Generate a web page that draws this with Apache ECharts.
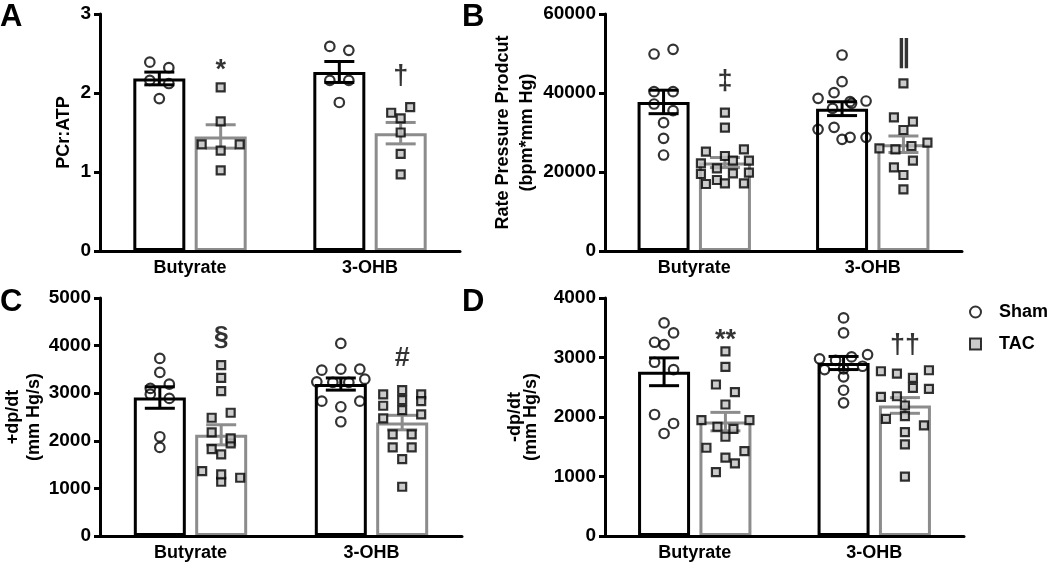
<!DOCTYPE html>
<html><head><meta charset="utf-8">
<script src="https://cdn.jsdelivr.net/npm/echarts@6/dist/echarts.min.js"></script>
<style>html,body{margin:0;padding:0;background:#fff}#c{width:1050px;height:562px}</style>
</head><body><div id="c"></div>
<script>
// ---------------- DATA ----------------
const categories = ['Butyrate', '3-OHB'];
const groupNames = ['Sham', 'TAC'];

// Panel A: PCr:ATP
const pcrShamButyrate = [2.39, 2.16, 1.93, 2.32, 2.12];
const pcrTacButyrate  = [1.35, 2.07, 1.64, 1.27, 1.02, 1.35];
const pcrSham3OHB     = [2.59, 2.16, 1.88, 2.54, 2.16];
const pcrTac3OHB      = [1.75, 1.50, 1.23, 0.97, 1.82, 1.68];

// Panel B: Rate pressure product
const rppShamButyrate = [49870, 40340, 37210, 32490, 28520, 24300, 51050, 40340, 35530];
const rppTacButyrate  = [25140, 22200, 19490, 16960, 24050, 20930, 17970, 35020, 31220, 25740, 22860, 19670, 17140, 22860, 19830, 17140];
const rppSham3OHB     = [38650, 36120, 30800, 28270, 40080, 37800, 49620, 42870, 37970, 31310, 28780, 37390, 28780];
const rppTac3OHB      = [26000, 33850, 30630, 25750, 21190, 42450, 15620, 32740, 26580, 22860, 19240, 27420];

// Panel C: +dp/dt
const dpPosShamButyrate = [2980, 3730, 3436, 3100, 2085, 1861, 3190, 2890];
const dpPosTacButyrate  = [2176, 1825, 1363, 1140, 3589, 3324, 3043, 2484, 1945, 1714, 1294, 2589, 2050, 1224];
const dpPosSham3OHB     = [3484, 3240, 3505, 3226, 2833, 4045, 2400, 3505, 3226, 2715, 3295, 2833];
const dpPosTac3OHB      = [2974, 2736, 2470, 3064, 2854, 2644, 2134, 1861, 1615, 1035, 2974, 2134, 1861, 2833, 2554];

// Panel D: -dp/dt
const dpNegShamButyrate = [3256, 2920, 2042, 3581, 1723, 3413, 3217, 2797, 1891];
const dpNegTacButyrate  = [1947, 2546, 1836, 1668, 1483, 1316, 1074, 3104, 2842, 2210, 2417, 1802, 1426, 1220, 1947];
const dpNegSham3OHB     = [2977, 2797, 2953, 2675, 3665, 3413, 2450, 2238, 3010, 2809, 3049, 2853];
const dpNegTac3OHB      = [2769, 2339, 1970, 2730, 2349, 2014, 1745, 1539, 997, 2658, 2490, 2193, 1858, 2786, 2473];

const panelLetters = ['A', 'B', 'C', 'D'];
const yNames = ['PCr:ATP', 'Rate Pressure Prodcut\n(bpm*mm Hg)', '+dp/dt\n(mm Hg/s)', '-dp/dt\n(mm Hg/s)'];
const yMax = [3, 60000, 5000, 4000];
const yInterval = [1, 20000, 1000, 1000];
const sigMarks = [['*', '†'], ['‡', '‖'], ['§', '#'], ['**', '††']];

const panelData = [
  [[pcrShamButyrate, pcrTacButyrate], [pcrSham3OHB, pcrTac3OHB]],
  [[rppShamButyrate, rppTacButyrate], [rppSham3OHB, rppTac3OHB]],
  [[dpPosShamButyrate, dpPosTacButyrate], [dpPosSham3OHB, dpPosTac3OHB]],
  [[dpNegShamButyrate, dpNegTacButyrate], [dpNegSham3OHB, dpNegTac3OHB]]
];

// ---------------- LAYOUT / STYLE ----------------
const FONT = 'Liberation Sans, Arial, sans-serif';
const grids = [
  {left: 100, top: 14, width: 360, height: 237},
  {left: 605, top: 14, width: 357, height: 237},
  {left: 100, top: 298, width: 362, height: 239},
  {left: 605, top: 298, width: 359, height: 239}
];
const nameGaps = [25, 63, 53, 66];
const nameLineHeights = [22, 24, 21, 16];
const letterPos = [[0, 2], [462, 2], [0, 287], [462, 287]];
const sigOffsets = [[17, 31], [31, 30], [28, 32], [11, 25]];
const BAR_W = 52, BAR_GAP = 0.18;
const HALF_SEP = BAR_W * (1 + BAR_GAP) / 2;
const ROW_H = 10, COL_W = 19, ROW_SPAN = 48, CAP_HALF = 15;
const groupColors = ['#000000', '#8c8c8c'];

function mean(a) { return a.reduce((s, v) => s + v, 0) / a.length; }
function sem(a) {
  const m = mean(a);
  const v = a.reduce((s, x) => s + (x - m) * (x - m), 0) / (a.length - 1);
  return Math.sqrt(v / a.length);
}
// Prism-like column scatter: group points into rows by value, spread rows horizontally
function swarm(vals, pxPerUnit) {
  const order = vals.map((v, i) => i).sort((a, b) => vals[b] - vals[a]);
  const offs = new Array(vals.length).fill(0);
  let row = [], start = null;
  const flush = () => {
    row.sort((a, b) => a - b);
    const w = row.length > 1 ? Math.min(COL_W, ROW_SPAN / (row.length - 1)) : 0;
    row.forEach((idx, j) => { offs[idx] = (j - (row.length - 1) / 2) * w; });
  };
  for (const i of order) {
    if (start !== null && (start - vals[i]) * pxPerUnit < ROW_H) row.push(i);
    else { if (row.length) flush(); row = [i]; start = vals[i]; }
  }
  if (row.length) flush();
  return offs;
}

const option = {
  animation: false,
  backgroundColor: '#fff',
  textStyle: {fontFamily: FONT},
  grid: grids.map(g => Object.assign({containLabel: false}, g)),
  xAxis: [], yAxis: [], series: [],
  legend: {
    orient: 'vertical', left: 964, top: 298, itemWidth: 11, itemHeight: 11, itemGap: 14,
    textStyle: {fontFamily: FONT, fontWeight: 'bold', fontSize: 18, color: '#000', padding: [0, 0, 0, 13]},
    data: [{name: 'Sham', icon: 'circle'}, {name: 'TAC', icon: 'rect'}]
  },
  graphic: panelLetters.map((L, i) => ({
    type: 'text', left: letterPos[i][0], top: letterPos[i][1],
    style: {text: L, font: 'bold 31px ' + FONT, fill: '#000'}
  }))
};

panelData.forEach((groups, p) => {
  const g = grids[p];
  const catW = g.width / categories.length;
  const pxPerUnit = g.height / yMax[p];
  option.xAxis.push({
    type: 'category', gridIndex: p, data: categories, z: 10,
    axisLine: {lineStyle: {color: '#000', width: 3}},
    axisTick: {show: false},
    axisLabel: {color: '#000', fontWeight: 'bold', fontSize: 18, fontFamily: FONT, margin: 8}
  });
  option.xAxis.push({type: 'value', gridIndex: p, min: 0, max: categories.length, show: false});
  option.yAxis.push({
    type: 'value', gridIndex: p, min: 0, max: yMax[p], interval: yInterval[p], z: 10,
    name: yNames[p], nameLocation: 'middle', nameGap: nameGaps[p], nameRotate: 90,
    nameTextStyle: {color: '#000', fontWeight: 'bold', fontSize: 18, fontFamily: FONT, lineHeight: nameLineHeights[p]},
    axisLine: {show: true, lineStyle: {color: '#000', width: 3}},
    axisTick: {show: true, length: 6, lineStyle: {color: '#000', width: 3}},
    axisLabel: {color: '#000', fontWeight: 'bold', fontSize: 19, fontFamily: FONT, margin: 9,
                formatter: v => String(v)},
    splitLine: {show: false}
  });
  const catAx = p * 2, valAx = p * 2 + 1;
  groupNames.forEach((gn, s) => {
    const side = s === 0 ? -1 : 1;
    const col = groupColors[s];
    // bars
    option.series.push({
      type: 'bar', name: gn + ' mean', xAxisIndex: catAx, yAxisIndex: p,
      barWidth: BAR_W, barGap: (BAR_GAP * 100) + '%', z: 1, silent: true,
      itemStyle: {color: '#fff', borderColor: col, borderWidth: 3},
      data: groups.map(gr => mean(gr[s]))
    });
    // error bars (mean ± SEM)
    option.series.push({
      type: 'custom', name: gn + ' sem', xAxisIndex: valAx, yAxisIndex: p, z: 3, silent: true,
      data: groups.map((gr, c) => [c + 0.5 + side * HALF_SEP / catW, mean(gr[s]), sem(gr[s])]),
      encode: {x: 0, y: 1},
      renderItem: (params, api) => {
        const x = api.value(0), m = api.value(1), e = api.value(2);
        const t = api.coord([x, m + e]), b = api.coord([x, m - e]);
        const st = {stroke: col, lineWidth: 3, fill: null};
        return {type: 'group', children: [
          {type: 'line', shape: {x1: t[0], y1: t[1], x2: b[0], y2: b[1]}, style: st},
          {type: 'line', shape: {x1: t[0] - CAP_HALF, y1: t[1], x2: t[0] + CAP_HALF, y2: t[1]}, style: st},
          {type: 'line', shape: {x1: b[0] - CAP_HALF, y1: b[1], x2: b[0] + CAP_HALF, y2: b[1]}, style: st}
        ]};
      }
    });
    // points
    const pts = [];
    groups.forEach((gr, c) => {
      const vals = gr[s];
      const offs = swarm(vals, pxPerUnit);
      vals.forEach((v, i) => pts.push([c + 0.5 + (side * HALF_SEP + offs[i]) / catW, v]));
    });
    option.series.push({
      type: 'scatter', name: gn, xAxisIndex: valAx, yAxisIndex: p, z: 4,
      symbol: s === 0 ? 'circle' : 'rect', symbolSize: s === 0 ? 9.5 : 8,
      itemStyle: s === 0 ? {color: 'rgba(255,255,255,0)', borderColor: '#000', borderWidth: 2.2}
                         : {color: '#bfbfbf', borderColor: '#000', borderWidth: 2.2},
      data: pts
    });
  });
  // significance marks above TAC points
  option.series.push({
    type: 'scatter', name: 'sig', xAxisIndex: valAx, yAxisIndex: p, z: 5, symbolSize: 0, silent: true,
    data: groups.map((gr, c) => {
      const mark = sigMarks[p][c];
      const special = mark === '‖';
      return {
        value: [c + 0.5 + HALF_SEP / catW, Math.max(...gr[1])],
        label: {show: true, position: 'inside', offset: [0, -sigOffsets[p][c]], formatter: mark,
                color: '#000', fontSize: special ? 31 : 27, fontWeight: 'bold',
                fontFamily: special ? 'DejaVu Sans' : FONT, verticalAlign: 'middle', align: 'center'}
      };
    })
  });
});

const chart = echarts.init(document.getElementById('c'), null, {renderer: 'canvas'});
chart.setOption(option);
</script></body></html>
